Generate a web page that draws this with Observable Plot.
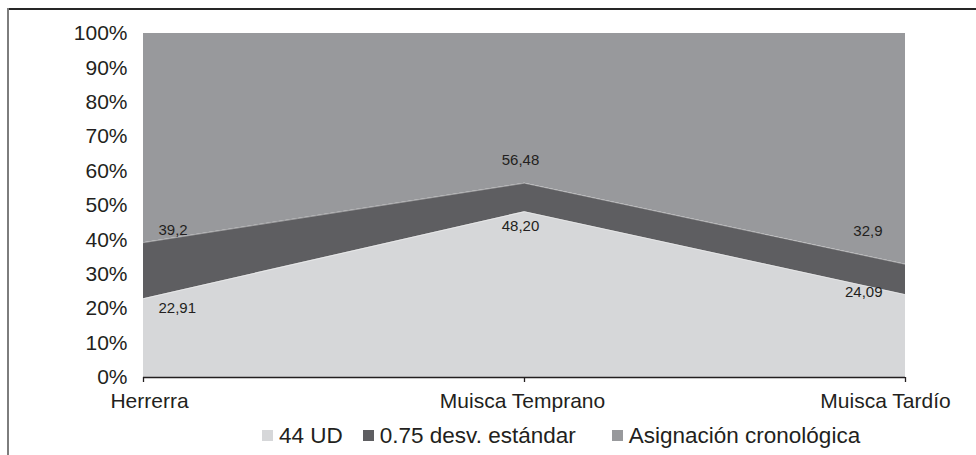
<!DOCTYPE html>
<html>
<head>
<meta charset="utf-8">
<script src="https://cdn.jsdelivr.net/npm/d3@7"></script>
<script src="https://cdn.jsdelivr.net/npm/@observablehq/plot@0.6"></script>
<style>
  html, body { margin: 0; padding: 0; background: #fff; }
  #figura {
    position: relative; width: 976px; height: 455px; overflow: hidden;
    font-family: "Liberation Sans", Arial, Helvetica, sans-serif; color: #231f20;
  }
  #figura .borde-sup { position: absolute; left: 7px; top: 8px; right: 0; border-top: 2px solid #262626; }
  #figura .borde-izq { position: absolute; left: 7px; top: 8px; bottom: 0; border-left: 2px solid #7d7d7d; }
  #grafico { position: absolute; left: 0; top: 0; }
  #leyenda {
    position: absolute; left: 0; top: 418px; width: 976px; height: 35px;
    display: flex; align-items: center; font-size: 22.5px;
  }
  #leyenda .item { display: flex; align-items: center; }
  #leyenda .muestra { width: 11px; height: 11px; margin-right: 6px; }
</style>
</head>
<body>
<div id="figura">
  <div id="grafico"></div>
  <div id="leyenda"></div>
  <div class="borde-sup"></div>
  <div class="borde-izq"></div>
</div>
<script>
// Periodos (eje X) y series apiladas
const categorias = ["Herrerra", "Muisca Temprano", "Muisca Tardío"];
const series = ["44 UD", "0.75 desv. estándar", "Asignación cronológica"];
const colores = ["#d6d7d9", "#5e5e61", "#98999c"];

// Límites acumulados (%) tal como se rotulan
const limite44UD = ["22,91", "48,20", "24,09"];
const limiteDesv = ["39,2", "56,48", "32,9"];

const ticksY = [0, 10, 20, 30, 40, 50, 60, 70, 80, 90, 100];

const num = s => +s.replace(",", ".");

// Tabla de bandas: cada serie ocupa [y1, y2] dentro del 100 %
const filas = categorias.flatMap((c, i) => [
  {categoria: c, serie: series[0], y1: 0, y2: num(limite44UD[i])},
  {categoria: c, serie: series[1], y1: num(limite44UD[i]), y2: num(limiteDesv[i])},
  {categoria: c, serie: series[2], y1: num(limiteDesv[i]), y2: 100}
]);

// Posición de las etiquetas de valor y de categoría
const ubicacion = {
  "Herrerra":        {anchor: "start",  dx: 15,  dySup: -12, dyInf: 9,  dxEje: 6},
  "Muisca Temprano": {anchor: "middle", dx: -4,  dySup: -23, dyInf: 14, dxEje: -2},
  "Muisca Tardío":   {anchor: "end",    dx: -23, dySup: -33, dyInf: -2, dxEje: -20}
};

const etiquetas = categorias.flatMap((c, i) => {
  const u = ubicacion[c];
  const base = {x: () => c, textAnchor: u.anchor, dx: u.dx, fontSize: 15, fill: "#231f20"};
  return [
    Plot.text([i], {...base, y: j => num(limiteDesv[j]), text: j => limiteDesv[j], dy: u.dySup}),
    Plot.text([i], {...base, y: j => num(limite44UD[j]), text: j => limite44UD[j], dy: u.dyInf})
  ];
});

const rotulosX = categorias.map(c => Plot.text([c], {
  x: d => d, text: d => d, frameAnchor: "bottom", lineAnchor: "top",
  dy: 16, dx: ubicacion[c].dxEje, fontSize: 21, fill: "#231f20"
}));

const grafico = Plot.plot({
  width: 976,
  height: 418,
  marginLeft: 143,
  marginRight: 71,
  marginTop: 33,
  marginBottom: 41,
  style: {fontFamily: "'Liberation Sans', Arial, Helvetica, sans-serif", color: "#231f20", background: "transparent"},
  x: {type: "point", domain: categorias, padding: 0},
  y: {domain: [0, 100]},
  color: {domain: series, range: colores},
  marks: [
    Plot.areaY(filas, {x: "categoria", y1: "y1", y2: "y2", fill: "serie", z: "serie"}),
    Plot.lineY(filas.filter(d => d.serie !== series[2]), {x: "categoria", y: "y2", z: "serie", stroke: "#ffffff", strokeWidth: 0.6, strokeOpacity: 0.7}),
    Plot.axisY({ticks: ticksY, tickFormat: d => `${d}%`, tickSize: 0, tickPadding: 16, fontSize: 21, label: null}),
    Plot.axisX({tickSize: 5, tickFormat: null, label: null, strokeWidth: 1.3}),
    Plot.ruleY([0], {stroke: "#231f20", strokeWidth: 1.5}),
    ...etiquetas,
    ...rotulosX
  ]
});
document.getElementById("grafico").appendChild(grafico);

// Leyenda
const leyenda = d3.select("#leyenda");
const espacios = ["262px", "20px", "36px"];
series.forEach((s, i) => {
  const item = leyenda.append("div").attr("class", "item").style("margin-left", espacios[i]);
  item.append("div").attr("class", "muestra").style("background", colores[i]);
  item.append("span").text(s);
});
</script>
</body>
</html>
